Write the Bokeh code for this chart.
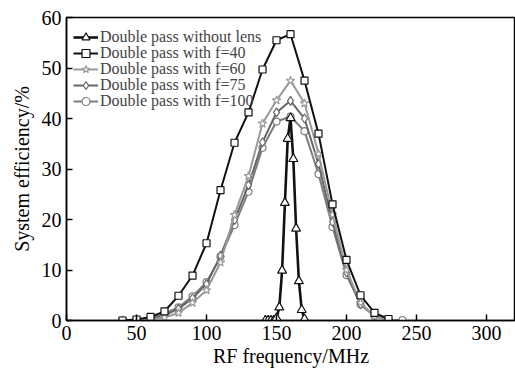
from bokeh.plotting import figure
from bokeh.models import Legend, LegendItem, Range1d
from bokeh.embed import file_html
from bokeh.resources import INLINE

# ---- data ----
freq_nolens = [142, 144, 146, 148, 150, 152, 154, 156, 158, 160, 162, 164, 166, 168, 170]
eff_nolens = [0, 0, 0, 0, 0.5, 2.6, 9.9, 23.3, 36.0, 40.1, 32.0, 18.2, 7.8, 2.1, 0.3]

freq = [40, 50, 60, 70, 80, 90, 100, 110, 120, 130, 140, 150, 160, 170, 180, 190, 200, 210, 220, 230]
eff_f40 = [0, 0.2, 0.7, 1.8, 4.9, 8.9, 15.3, 25.8, 35.2, 41.2, 49.7, 55.5, 56.7, 47.5, 37.0, 23.0, 12.0, 5.0, 1.5, 0.3]
eff_f60 = [0, 0.1, 0.2, 0.6, 1.5, 3.5, 6.0, 11.5, 20.9, 28.6, 39.0, 43.6, 47.5, 43.0, 33.0, 21.0, 10.0, 3.5, 0.8, 0.1]
eff_f75 = [0, 0.1, 0.3, 1.0, 2.3, 4.4, 7.2, 12.8, 19.9, 26.8, 35.3, 41.2, 43.5, 40.0, 31.0, 19.5, 9.5, 3.2, 0.9, 0.1]
freq_f100 = [40, 50, 60, 70, 80, 90, 100, 110, 120, 130, 140, 150, 160, 170, 180, 190, 200, 210, 220, 230, 240]
eff_f100 = [0, 0.1, 0.3, 1.4, 2.6, 4.8, 7.6, 12.6, 18.9, 25.5, 34.2, 39.4, 40.4, 37.5, 29.0, 18.5, 9.0, 3.2, 0.9, 0.1, 0.1]

labels = ["Double pass without lens", "Double pass with f=40", "Double pass with f=60",
          "Double pass with f=75", "Double pass with f=100"]
x_ticks = [0, 50, 100, 150, 200, 250, 300]
y_ticks = [0, 10, 20, 30, 40, 50, 60]

FONT = "Liberation Serif"

p = figure(width=515, height=369, output_backend="svg", toolbar_location=None,
           x_range=Range1d(0, 320.7), y_range=Range1d(0, 60),
           min_border_left=66, min_border_right=0, min_border_top=17, min_border_bottom=49)
p.grid.visible = False
p.outline_line_color = "black"
p.outline_line_width = 1.5

for ax in (p.xaxis[0], p.yaxis[0]):
    ax.major_tick_in = 6
    ax.major_tick_out = 0
    ax.minor_tick_in = 0
    ax.minor_tick_out = 0
    ax.axis_line_width = 1.5
    ax.major_tick_line_width = 1.5
    ax.axis_line_color = "black"
    ax.major_label_text_font = FONT
    ax.major_label_text_font_size = "20px"
    ax.major_label_text_color = "black"
    ax.axis_label_text_font = FONT
    ax.axis_label_text_font_size = "20px"
    ax.axis_label_text_font_style = "normal"
    ax.axis_label_text_color = "black"

p.xaxis.ticker = x_ticks
p.yaxis.ticker = y_ticks
p.xaxis.axis_label = "RF frequency/MHz"
p.yaxis.axis_label = "System efficiency/%"
p.xaxis.major_label_standoff = 5
p.xaxis.axis_label_standoff = 2
p.yaxis.major_label_standoff = 5
p.yaxis.axis_label_standoff = 6

series = [
    (freq_nolens, eff_nolens, "#111111", 2.6, "triangle", 9),
    (freq, eff_f40, "#111111", 2.0, "square", 7),
    (freq, eff_f60, "#9a9a9a", 2.0, "star", 9),
    (freq, eff_f75, "#666666", 2.0, "diamond", 9),
    (freq_f100, eff_f100, "#7d7d7d", 2.0, "circle", 7),
]

draw_order = [4, 3, 2, 1, 0]
renderers = {}
for i in draw_order:
    xs, ys, col, lw, mk, sz = series[i]
    l = p.line(xs, ys, line_color=col, line_width=lw)
    m = p.scatter(xs, ys, marker=mk, size=sz, fill_color="white", line_color=col, line_width=1.2)
    renderers[i] = [l, m]

# one legend per entry so the rows can sit as tightly as in the reference
row_offsets = [273, 257, 241, 225, 209]
for i in range(5):
    lg = Legend(items=[LegendItem(label=labels[i], renderers=renderers[i])],
                location=(7, row_offsets[i]), padding=0, margin=0, spacing=0,
                label_height=20, glyph_height=20, glyph_width=25, label_standoff=2,
                label_text_font=FONT, label_text_font_size="16px",
                background_fill_alpha=0, border_line_alpha=0)
    p.add_layout(lg)

open("out.html", "w").write(file_html(p, INLINE))
